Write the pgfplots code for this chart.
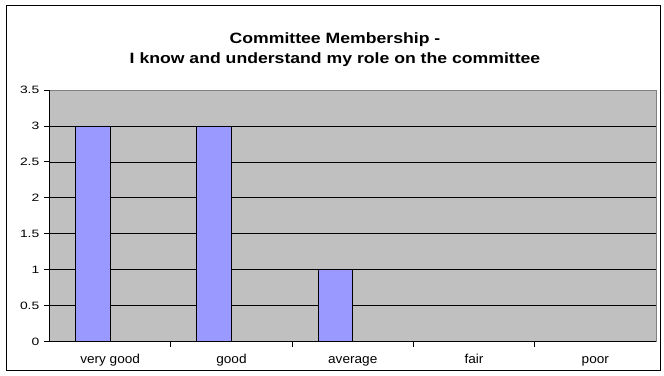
\documentclass[border=0pt]{standalone}
\usepackage{fontspec}
\setmainfont{Liberation Sans}
\newfontfamily\titlefont{Liberation Sans}[FakeStretch=1.18]
\newfontfamily\xlabfont{Liberation Sans}[FakeStretch=1.05]
\newfontfamily\ylabfont{Liberation Sans}[FakeStretch=1.3]
\usepackage{pgfplots}
\pgfplotsset{compat=1.18}
\definecolor{bgray}{HTML}{C0C0C0}
\definecolor{barblue}{HTML}{9999FF}
\definecolor{bordergray}{HTML}{808080}
\begin{document}
\begin{tikzpicture}
\useasboundingbox (0,0) rectangle (664bp,376bp);
\draw[line width=1bp, black] (6bp,5bp) rectangle (660bp,370bp);
\node[anchor=base, inner sep=0pt, font=\titlefont\bfseries\fontsize{15}{18}\selectfont] at (335bp,332bp) {Committee Membership -};
\node[anchor=base, inner sep=0pt, font=\titlefont\bfseries\fontsize{15}{18}\selectfont] at (335bp,312bp) {I know and understand my role on the committee};
\begin{axis}[
  at={(49.5bp,34.5bp)}, anchor=south west,
  scale only axis, width=606.5bp, height=251.5bp,
  xmin=-0.5, xmax=4.5, ymin=0, ymax=3.5,
  ytick={0,0.5,1,1.5,2,2.5,3,3.5},
  xtick={0,1,2,3,4},
  xticklabels={very good,good,average,fair,poor},
  minor xtick={0.5,1.5,2.5,3.5},
  tick pos=left,
  major x tick style={draw=none},
  minor x tick style={black, line width=0.8bp},
  y tick style={black, line width=0.8bp},
  tick align=outside,
  major tick length=5bp, minor tick length=5bp,
  ymajorgrids,
  major grid style={black, line width=0.7bp},
  axis background/.style={fill=bgray},
  axis line style={draw=bordergray, line width=1bp},
  /pgf/number format/assume math mode=true,
  yticklabel style={font=\ylabfont\fontsize{10.7}{13}\selectfont, inner sep=0pt, xshift=-5bp},
  xticklabel style={font=\xlabfont\fontsize{13}{15}\selectfont, inner sep=0pt, anchor=base, yshift=-17bp},
  clip=false,
]
\addplot[ybar, bar width=34.6bp, bar shift=-17.3bp, fill=barblue, draw=black, line width=0.8bp]
  coordinates {(0,3) (1,3) (2,1) (3,0) (4,0)};
\draw[black, line width=1bp] (rel axis cs:0,1) -- (rel axis cs:0,0) -- (rel axis cs:1,0);
\end{axis}
\end{tikzpicture}
\end{document}
